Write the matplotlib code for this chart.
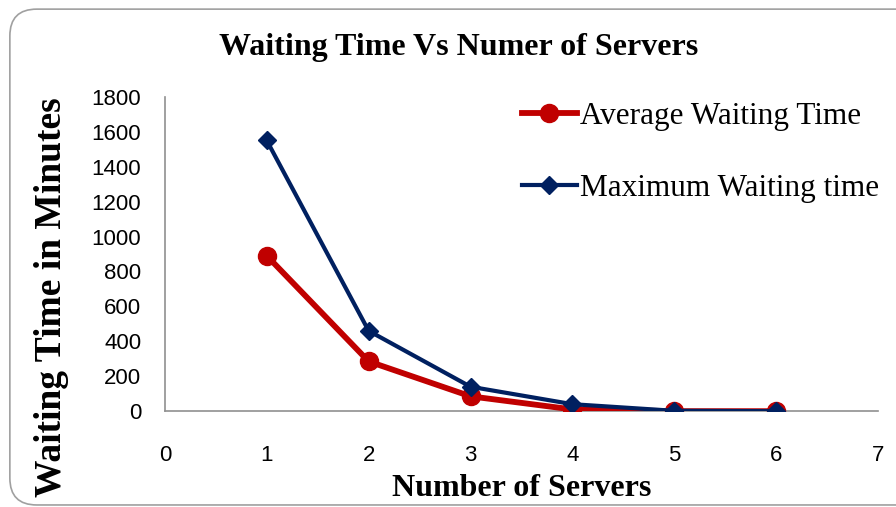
import matplotlib.pyplot as plt
from matplotlib.patches import FancyBboxPatch

servers = [1, 2, 3, 4, 5, 6]
avg_wait = [890, 285, 85, 10, 0, 0]
max_wait = [1550, 460, 140, 40, 2, 0]

x_ticks = [0, 1, 2, 3, 4, 5, 6, 7]
y_ticks = [0, 200, 400, 600, 800, 1000, 1200, 1400, 1600, 1800]

red = '#C00000'
blue = '#002060'
serif = 'Liberation Serif'
tick_font = 'Liberation Sans'

fig = plt.figure(figsize=(8.96, 5.07), dpi=100)

# rounded chart border
frame = FancyBboxPatch((0.011, 0.004), 1.1, 0.978, boxstyle='round,pad=0,rounding_size=0.03',
                       transform=fig.transFigure, facecolor='white', edgecolor='#a0a0a0',
                       linewidth=1.2, mutation_aspect=896 / 507, zorder=-5)
fig.patches.append(frame)

ax = fig.add_axes([0.184, 0.189, 0.796, 0.62])
ax.patch.set_alpha(0)
ax.plot(servers, avg_wait, color=red, linewidth=4.2, marker='o', markersize=13,
        label='Average Waiting Time', zorder=3)
ax.plot(servers, max_wait, color=blue, linewidth=3.0, marker='D', markersize=9.5,
        label='Maximum Waiting time', zorder=4)

ax.set_xlim(0, 7)
ax.set_ylim(0, 1800)
ax.set_xticks(x_ticks)
ax.set_yticks(y_ticks)
for side in ['top', 'right']:
    ax.spines[side].set_visible(False)
for side in ['left', 'bottom']:
    ax.spines[side].set_color('#909090')
    ax.spines[side].set_linewidth(1.2)
ax.tick_params(axis='both', length=0, labelsize=16)
ax.tick_params(axis='x', pad=24)
ax.tick_params(axis='y', pad=17)
for lab in ax.get_xticklabels() + ax.get_yticklabels():
    lab.set_family(tick_font)

fig.text(0.512, 0.907, 'Waiting Time Vs Numer of Servers', ha='center', va='center',
         fontsize=23, fontweight='bold', family=serif)
ax.set_xlabel('Number of Servers', fontsize=23, fontweight='bold', family=serif)
ax.xaxis.set_label_coords(0.5, -0.2)
ax.set_ylabel('Waiting Time in Minutes', fontsize=27, fontweight='bold', family=serif)
ax.yaxis.set_label_coords(-0.135, 0.363)

leg = ax.legend(loc='upper left', bbox_to_anchor=(0.461, 1.074), frameon=False,
                prop={'family': serif, 'size': 22.5}, labelspacing=1.39,
                handlelength=1.76, handletextpad=0.1)

fig.savefig('out.png', dpi=100)
